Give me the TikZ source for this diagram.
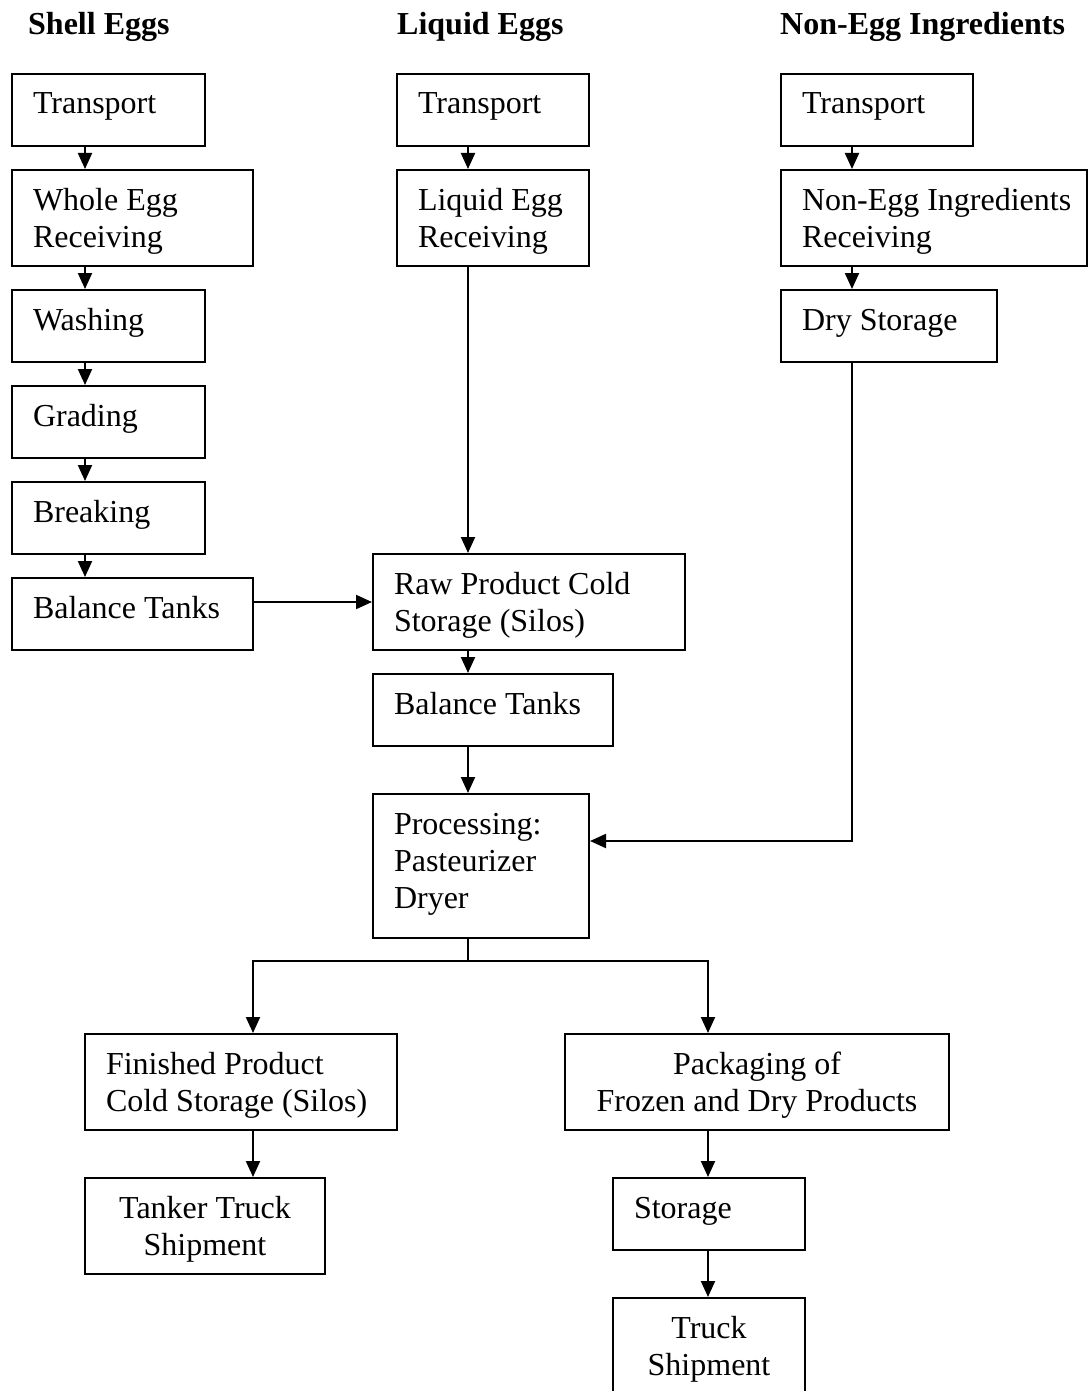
\documentclass[tikz,border=0pt]{standalone}
\usepackage{fontspec}
\setmainfont{Liberation Serif}
\usetikzlibrary{arrows.meta}
\newcommand{\lbx}[3]{\parbox[c][#2pt][t]{\dimexpr#1pt-42pt\relax}{\raggedright\rule{0pt}{40pt}#3}}
\newcommand{\cbx}[3]{\parbox[c][#2pt][t]{\dimexpr#1pt-42pt\relax}{\centering\rule{0pt}{40pt}#3}}
\tikzset{
  box/.style={draw, line width=2pt, inner xsep=21pt, inner ysep=0pt, anchor=north west, font=\fontsize{32}{37}\selectfont},
  hdr/.style={inner sep=0pt, anchor=base west, font=\fontsize{32}{37}\selectfont\bfseries},
  arr/.style={line width=2pt, -{Triangle[length=16pt,width=14pt]}},
  ln/.style={line width=2pt}
}
\begin{document}
\begin{tikzpicture}[x=1pt,y=-1pt]
\useasboundingbox (0,0) rectangle (1087,1391);
% headers
\node[hdr] (h1) at (28,35) {Shell Eggs};
\node[hdr] (h2) at (397,35) {Liquid Eggs};
\node[hdr] (h3) at (780,35) {Non-Egg Ingredients};
% shell eggs column
\node[box] (s1) at (11,73) {\lbx{193}{72}{Transport}};
\node[box] (s2) at (11,169) {\lbx{241}{96}{Whole Egg\\Receiving}};
\node[box] (s3) at (11,289) {\lbx{193}{72}{Washing}};
\node[box] (s4) at (11,385) {\lbx{193}{72}{Grading}};
\node[box] (s5) at (11,481) {\lbx{193}{72}{Breaking}};
\node[box] (s6) at (11,577) {\lbx{241}{72}{Balance Tanks}};
% liquid eggs column
\node[box] (l1) at (396,73) {\lbx{192}{72}{Transport}};
\node[box] (l2) at (396,169) {\lbx{192}{96}{Liquid Egg\\Receiving}};
\node[box] (raw) at (372,553) {\lbx{312}{96}{Raw Product Cold\\Storage (Silos)}};
\node[box] (bt) at (372,673) {\lbx{240}{72}{Balance Tanks}};
\node[box] (proc) at (372,793) {\lbx{216}{144}{Processing:\\Pasteurizer\\Dryer}};
% non-egg column
\node[box] (n1) at (780,73) {\lbx{192}{72}{Transport}};
\node[box] (n2) at (780,169) {\lbx{306}{96}{\mbox{Non-Egg Ingredients}\\Receiving}};
\node[box] (dry) at (780,289) {\lbx{216}{72}{Dry Storage}};
% outputs
\node[box] (fin) at (84,1033) {\lbx{312}{96}{Finished Product\\Cold Storage (Silos)}};
\node[box] (tank) at (84,1177) {\cbx{240}{96}{Tanker Truck\\Shipment}};
\node[box] (pack) at (564,1033) {\cbx{384}{96}{Packaging of\\Frozen and Dry Products}};
\node[box] (stor) at (612,1177) {\lbx{192}{72}{Storage}};
\node[box] (truck) at (612,1297) {\cbx{192}{96}{Truck\\Shipment}};
% guide coordinates
\coordinate (cs) at (85,0);
\coordinate (cl) at (468,0);
\coordinate (cn) at (852,0);
\coordinate (cf) at (253,0);
\coordinate (cp) at (708,0);
\coordinate (jn) at (0,961);
\coordinate (jd) at (0,841);
% connectors
\draw[arr] (s1.south -| cs) -- (s2.north -| cs);
\draw[arr] (s2.south -| cs) -- (s3.north -| cs);
\draw[arr] (s3.south -| cs) -- (s4.north -| cs);
\draw[arr] (s4.south -| cs) -- (s5.north -| cs);
\draw[arr] (s5.south -| cs) -- (s6.north -| cs);
\draw[arr] (s6.east |- raw.west) -- (raw.west);
\draw[arr] (l1.south -| cl) -- (l2.north -| cl);
\draw[arr] (l2.south -| cl) -- (raw.north -| cl);
\draw[arr] (raw.south -| cl) -- (bt.north -| cl);
\draw[arr] (bt.south -| cl) -- (proc.north -| cl);
\draw[arr] (n1.south -| cn) -- (n2.north -| cn);
\draw[arr] (n2.south -| cn) -- (dry.north -| cn);
\draw[arr] (dry.south -| cn) |- (proc.east |- jd);
\draw[ln] (proc.south -| cl) -- (cl |- jn);
\draw[arr] (cl |- jn) -| (fin.north -| cf);
\draw[arr] (cl |- jn) -| (pack.north -| cp);
\draw[arr] (fin.south -| cf) -- (tank.north -| cf);
\draw[arr] (pack.south -| cp) -- (stor.north -| cp);
\draw[arr] (stor.south -| cp) -- (truck.north -| cp);
\end{tikzpicture}
\end{document}
